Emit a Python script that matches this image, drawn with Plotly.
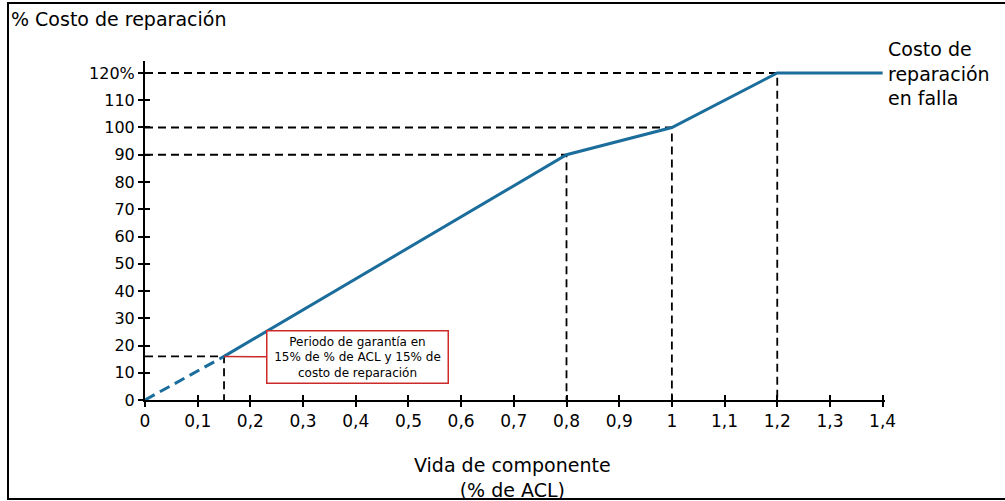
import plotly.graph_objects as go

# Data
x_dashed = [0, 0.15]
y_dashed = [0, 16]
x_curve = [0.15, 0.8, 1.0, 1.2, 1.4]
y_curve = [16, 90, 100, 120, 120]
ref_x = [0.15, 0.8, 1.0, 1.2]
ref_y = [16, 90, 100, 120]
x_ticks = [0, 0.1, 0.2, 0.3, 0.4, 0.5, 0.6, 0.7, 0.8, 0.9, 1.0, 1.1, 1.2, 1.3, 1.4]
x_ticktext = ["0", "0,1", "0,2", "0,3", "0,4", "0,5", "0,6", "0,7", "0,8", "0,9", "1", "1,1", "1,2", "1,3", "1,4"]
y_ticks = [0, 10, 20, 30, 40, 50, 60, 70, 80, 90, 100, 110, 120]
y_ticktext = ["0", "10", "20", "30", "40", "50", "60", "70", "80", "90", "100", "110", "120%"]

FONT = "DejaVu Sans"
BLUE = "#1b6d9c"
W, H = 1005, 501
ML, MR, MT, MB = 145, 120, 61, 101

fig = go.Figure()

# reference dashed lines
for rx, ry in zip(ref_x, ref_y):
    fig.add_trace(go.Scatter(x=[0, rx, rx], y=[ry, ry, 0], mode="lines",
                             line=dict(color="black", width=1.8, dash="8px,5px"),
                             hoverinfo="skip", showlegend=False))

fig.add_trace(go.Scatter(x=x_dashed, y=y_dashed, mode="lines",
                         line=dict(color=BLUE, width=3, dash="11px,6px"), showlegend=False))
fig.add_trace(go.Scatter(x=x_curve, y=y_curve, mode="lines",
                         line=dict(color=BLUE, width=3), showlegend=False))

xr = [0, 1.4045]
yr = [0, 124.4]
axis_common = dict(showgrid=False, zeroline=False, showline=True, linecolor="black", linewidth=2,
                   ticklen=5, tickwidth=1.5, tickcolor="black")
fig.update_layout(
    width=W, height=H,
    margin=dict(l=ML, r=MR, t=MT, b=MB),
    paper_bgcolor="white", plot_bgcolor="white",
    font=dict(family=FONT, size=16, color="black"),
    xaxis=dict(range=xr, tickvals=x_ticks, ticktext=x_ticktext, ticks="outside",
               tickfont=dict(size=17), **axis_common),
    yaxis=dict(range=yr, tickvals=y_ticks, ticktext=y_ticktext, ticks="outside",
               tickfont=dict(size=16), **axis_common),
    xaxis2=dict(range=xr, tickvals=x_ticks, ticks="inside", showticklabels=False,
                overlaying="x", **axis_common),
    yaxis2=dict(range=yr, tickvals=y_ticks, ticks="inside", showticklabels=False,
                overlaying="y", **axis_common),
    showlegend=False,
)
# dummy trace to activate overlay axes
fig.add_trace(go.Scatter(x=[None], y=[None], xaxis="x2", yaxis="y2", showlegend=False))

def px_x(p):
    return (p - ML) / (W - ML - MR)

def px_y(p):
    return (H - MB - p) / (H - MT - MB)

fig.add_annotation(text="% Costo de reparación", xref="paper", yref="paper",
                   x=px_x(9), y=px_y(19), xanchor="left", yanchor="middle",
                   showarrow=False, font=dict(size=19))
fig.add_annotation(text="Vida de componente<br>(% de ACL)", xref="paper", yref="paper",
                   x=px_x(512), y=px_y(477), xanchor="center", yanchor="middle",
                   showarrow=False, font=dict(size=19))
fig.add_annotation(text="Costo de<br>reparación<br>en falla", xref="paper", yref="paper",
                   x=px_x(886), y=px_y(73), xanchor="left", yanchor="middle", align="left",
                   showarrow=False, font=dict(size=19))
fig.add_annotation(text="Periodo de garantía en<br>15% de % de ACL y 15% de<br>costo de reparación",
                   x=0.15, y=16, xref="x", yref="y", ax=133, ay=1,
                   showarrow=True, arrowhead=0, arrowwidth=1.5, arrowcolor="#cc2a2a",
                   bordercolor="#cc2a2a", borderwidth=1.5, borderpad=3, bgcolor="white",
                   width=174, font=dict(size=12), align="center")

# frame (left, top and bottom edges; right edge lies beyond the view)
fig.add_shape(type="rect", xref="paper", yref="paper",
              x0=px_x(8), x1=px_x(1030), y0=px_y(499), y1=px_y(3),
              line=dict(color="black", width=2), layer="below")

fig.write_html("out.html", config={"displayModeBar": False},
               post_script="document.body.style.margin='0';")
